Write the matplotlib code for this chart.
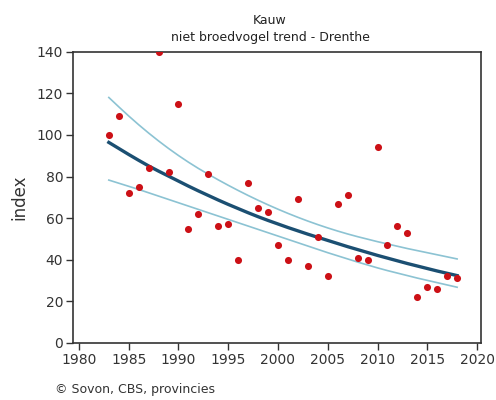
import matplotlib
matplotlib.use("Agg")
import matplotlib.pyplot as plt

years = list(range(1983, 2019))
index_values = [100, 109, 72, 75, 84, 140, 82, 115, 55, 62, 81, 56, 57, 40, 77,
                65, 63, 47, 40, 69, 37, 51, 32, 67, 71, 41, 40, 94, 47, 56, 53,
                22, 27, 26, 32, 31]
trend = [96.4, 93.5, 90.6, 87.8, 85.1, 82.6, 80.2, 77.8, 75.4, 73.1, 70.9, 68.7,
         66.6, 64.6, 62.6, 60.7, 58.9, 57.2, 55.5, 53.9, 52.3, 50.8, 49.3, 47.8,
         46.3, 44.9, 43.5, 42.1, 40.8, 39.5, 38.2, 37.0, 35.8, 34.6, 33.5, 32.4]
upper = [118.0, 113.5, 109.1, 104.9, 100.9, 97.1, 93.5, 90.1, 86.9, 83.9, 81.1,
         78.4, 75.8, 73.3, 70.9, 68.6, 66.4, 64.3, 62.3, 60.4, 58.6, 56.9, 55.3,
         53.8, 52.4, 51.1, 49.9, 48.7, 47.6, 46.5, 45.4, 44.4, 43.4, 42.4, 41.4, 40.4]
lower = [78.3, 76.8, 75.3, 73.8, 72.2, 70.6, 69.0, 67.4, 65.8, 64.2, 62.6, 61.0,
         59.4, 57.8, 56.2, 54.6, 53.0, 51.4, 49.8, 48.2, 46.6, 45.0, 43.4, 41.9,
         40.4, 38.9, 37.5, 36.1, 34.8, 33.6, 32.4, 31.2, 30.1, 29.0, 27.9, 26.8]
xticks = [1980, 1985, 1990, 1995, 2000, 2005, 2010, 2015, 2020]
yticks = [0, 20, 40, 60, 80, 100, 120, 140]

fig = plt.figure(figsize=(4.96, 4.0), dpi=100)
ax = fig.add_axes([73/496, 1-343/400, (481-73)/496, (343-51.7)/400])

ax.plot(years, upper, color="#8cc3d3", lw=1.2, zorder=2)
ax.plot(years, lower, color="#8cc3d3", lw=1.2, zorder=2)
ax.plot(years, trend, color="#1b4f72", lw=2.4, zorder=3)
ax.scatter(years, index_values, s=26, color="#cc1016", zorder=4, linewidths=0)

ax.set_xlim(1979.4, 2020.4)
ax.set_ylim(0, 140)
ax.set_xticks(xticks)
ax.set_yticks(yticks)
ax.tick_params(direction="out", length=5, width=1, colors="#333333",
               labelsize=10, pad=2)
for s in ax.spines.values():
    s.set_color("#333333")
    s.set_linewidth(1.2)
ax.set_ylabel("index", fontsize=12, color="#333333", labelpad=6)

fig.text(270/496, 1-20/400, "Kauw", ha="center", va="center", fontsize=9, color="#222222")
fig.text(270/496, 1-38/400, "niet broedvogel trend - Drenthe", ha="center", va="center",
         fontsize=9, color="#222222")
fig.text(55/496, 1-390/400, "© Sovon, CBS, provincies", ha="left", va="center",
         fontsize=9, color="#333333")

fig.savefig("out.png", dpi=100)
